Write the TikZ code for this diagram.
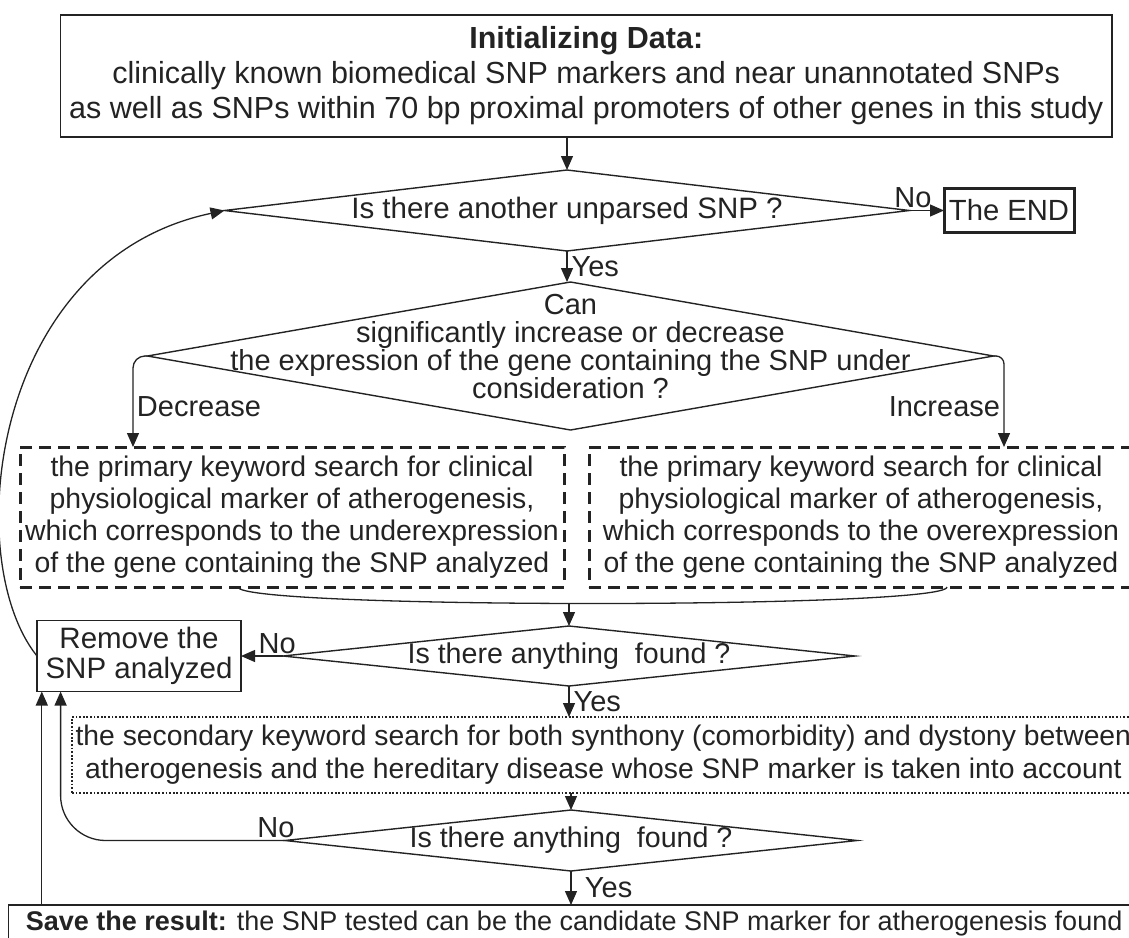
\documentclass[tikz,border=0pt]{standalone}
\usepackage{fontspec}
\setmainfont{Liberation Sans}
\usetikzlibrary{arrows.meta,shapes.geometric}
\definecolor{FlowInk}{RGB}{35,35,35}
\newcommand{\flowfont}[2]{\fontsize{#1}{#2}\selectfont}

\begin{document}
\begin{tikzpicture}[
x=1pt,y=1pt,
box/.style={rectangle,draw=FlowInk,line width=1.4pt,align=center,inner sep=0pt,outer sep=0pt,text=FlowInk},
decision/.style={diamond,draw=FlowInk,line width=1.4pt,inner sep=0pt,outer sep=0pt},
searchbox/.style={box,line width=3pt,dash pattern=on 12pt off 7pt,font=\flowfont{28.4pt}{32pt}},
keybox/.style={box,line width=2.5pt,dash pattern=on 1.8pt off 1.8pt},
endbox/.style={box,line width=3pt},
lbl/.style={text=FlowInk,font=\flowfont{29pt}{33pt}},
arrow/.style={-{Triangle[length=14pt,width=12pt]},line width=1.3pt,draw=FlowInk}
]

\useasboundingbox (0,0) rectangle (1129,-937);
\clip (0,0) rectangle (1129,-937);

\node[box,minimum width=1051.5pt,minimum height=122pt,font=\flowfont{30.5pt}{35pt}] (init) at (586.25,-76) {\textbf{Initializing Data:}\\clinically known biomedical SNP markers and near unannotated SNPs\\as well as SNPs within 70 bp proximal promoters of other genes in this study};
\node[decision,minimum width=685pt,minimum height=81pt,label={[lbl,font=\flowfont{29.5pt}{33pt}]center:{Is there another unparsed SNP ?}}] (d1) at (567,-210.5) {};
\node[endbox,minimum width=130pt,minimum height=44pt,font=\flowfont{29.2pt}{33pt}] (fin) at (1009,-210.5) {The END};
\node[decision,minimum width=846pt,minimum height=148pt,label={[lbl,align=center,font=\flowfont{29pt}{28pt},yshift=9pt]center:{Can\\significantly increase or decrease\\the expression of the gene containing the SNP under\\consideration ?}}] (d2) at (570.5,-356) {};
\node[searchbox,minimum width=544pt,minimum height=140pt] (dl) at (292,-517) {the primary keyword search for clinical\\physiological marker of atherogenesis,\\which corresponds to the underexpression\\of the gene containing the SNP analyzed};
\node[searchbox,minimum width=544pt,minimum height=140pt] (dr) at (861,-517) {the primary keyword search for clinical\\physiological marker of atherogenesis,\\which corresponds to the overexpression\\of the gene containing the SNP analyzed};
\node[decision,minimum width=572pt,minimum height=60pt,label={[lbl,font=\flowfont{28.6pt}{33pt}]center:{Is there anything\ \ found ?}}] (d3) at (569,-656) {};
\node[box,minimum width=204pt,minimum height=71pt,font=\flowfont{29.5pt}{30pt}] (remove) at (139,-656) {Remove the\\SNP analyzed};
\node[keybox,anchor=west,inner xsep=3.6pt,minimum height=76pt,font=\flowfont{28.3pt}{33pt}] (sec) at (72,-755) {the secondary keyword search for both synthony (comorbidity) and dystony between\\atherogenesis and the hereditary disease whose SNP marker is taken into account};
\node[decision,minimum width=572pt,minimum height=61pt,label={[lbl,font=\flowfont{28.6pt}{33pt}]center:{Is there anything\ \ found ?}}] (d4) at (571,-840.5) {};
\node[box,anchor=north west,inner xsep=17.5pt,minimum height=38pt,font=\flowfont{27pt}{33pt}] (save) at (8.3,-905) {\textbf{Save the result:} the SNP tested can be the candidate SNP marker for atherogenesis found};

\draw[arrow] (init.south -| d1.north) -- (d1.north);
\draw[arrow] (d1.east) -- (fin.west) node[lbl,pos=0.1,above,inner sep=2pt] {No};
\draw[arrow] (d1.south) -- (d1.south |- d2.north) node[lbl,midway,right,inner sep=4pt] {Yes};
\draw[arrow,rounded corners=12pt] (d2.west) -| ([xshift=-159pt]dl.north) node[lbl,pos=0.78,right] {Decrease};
\draw[arrow,rounded corners=8pt] (d2.east) -| ([xshift=143pt]dr.north) node[lbl,pos=0.78,left] {Increase};
\draw[line width=1.3pt,draw=FlowInk] ([xshift=-54pt]dl.south) .. controls +(0,-22) and +(0,-22) .. ([xshift=86pt]dr.south);
\coordinate (join) at (569,-603.5);
\draw[arrow] (join) -- (join |- d3.north);
\draw[arrow] (d3.west) -- (remove.east) node[lbl,pos=0.14,above,inner sep=2pt] {No};
\draw[arrow] (remove.west) .. controls (-40,-560) and (-10,-260) .. (d1.west);
\draw[arrow] (d3.south) -- (d3.south |- sec.north) node[lbl,midway,right,inner sep=4pt] {Yes};
\draw[arrow] (sec.south -| d4.north) -- (d4.north);
\draw[arrow,rounded corners=45pt] (d4.west) -| ([xshift=23.6pt]remove.south west) node[lbl,pos=0.02,above,inner sep=2pt] {No};
\draw[arrow] (d4.south) -- (d4.south |- save.north) node[lbl,midway,right,xshift=10pt] {Yes};
\coordinate (up) at ([xshift=33.5pt]save.north west);
\draw[arrow] (up) -- (up |- remove.south);

\end{tikzpicture}
\end{document}
